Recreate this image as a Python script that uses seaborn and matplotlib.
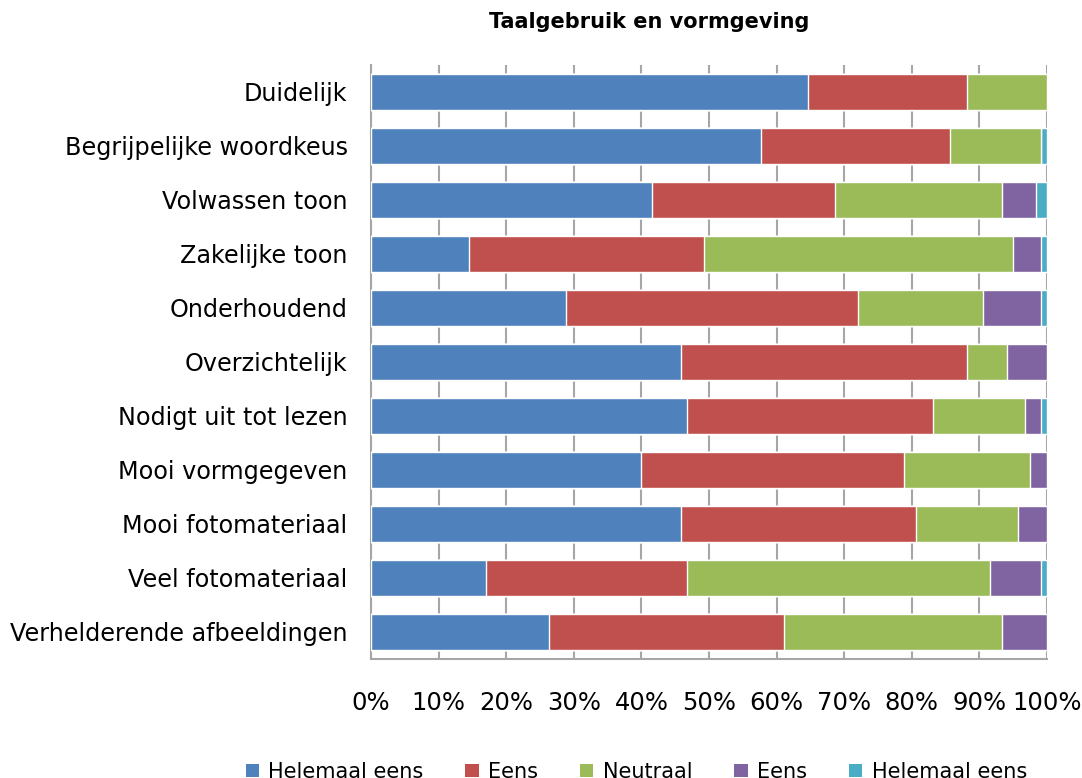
import matplotlib
matplotlib.use("Agg")
import matplotlib.pyplot as plt
import seaborn as sns
import pandas as pd
import numpy as np
from matplotlib.patches import Patch

categories = ["Duidelijk", "Begrijpelijke woordkeus", "Volwassen toon", "Zakelijke toon",
              "Onderhoudend", "Overzichtelijk", "Nodigt uit tot lezen", "Mooi vormgegeven",
              "Mooi fotomateriaal", "Veel fotomateriaal", "Verhelderende afbeeldingen"]
helemaal_eens = [64.6, 57.7, 41.6, 14.5, 28.9, 45.8, 46.7, 39.9, 45.8, 17.0, 26.3]
eens = [23.6, 27.9, 27.1, 34.7, 43.2, 42.4, 36.4, 39.0, 34.8, 29.7, 34.8]
neutraal = [11.8, 13.6, 24.6, 45.8, 18.5, 5.9, 13.6, 18.6, 15.2, 44.9, 32.2]
oneens = [0.0, 0.0, 5.1, 4.2, 8.6, 5.9, 2.5, 2.5, 4.2, 7.6, 6.7]
helemaal_oneens = [0.0, 0.8, 1.6, 0.8, 0.8, 0.0, 0.8, 0.0, 0.0, 0.8, 0.0]
series_labels = ["Helemaal eens", "Eens", "Neutraal", "Eens", "Helemaal eens"]
tick_values = [0, 10, 20, 30, 40, 50, 60, 70, 80, 90, 100]
tick_labels = ["0%", "10%", "20%", "30%", "40%", "50%", "60%", "70%", "80%", "90%", "100%"]
title = "Taalgebruik en vormgeving"

colors = ["#4F81BD", "#C0504D", "#9BBB59", "#8064A2", "#4BACC6"]

sns.set_style("white")
plt.rcParams['font.family'] = ['DejaVu Sans']
plt.rcParams['text.color'] = 'black'
plt.rcParams['xtick.color'] = 'black'
plt.rcParams['ytick.color'] = 'black'

series = [helemaal_eens, eens, neutraal, oneens, helemaal_oneens]
cum = np.cumsum(np.array(series), axis=0)

fig = plt.figure(figsize=(10.82, 7.78), dpi=100)
ax = fig.add_axes([0.343, 0.153, 0.6245, 0.7635])

for i in range(len(series) - 1, -1, -1):
    df = pd.DataFrame({"cat": categories, "val": cum[i]})
    sns.barplot(data=df, y="cat", x="val", color=colors[i], width=0.67,
                saturation=1, ax=ax, orient="h", zorder=3)

ax.set_xlim(0, 100)
ax.set_xticks(tick_values)
ax.set_xticklabels(tick_labels, fontsize=17.5)
ax.tick_params(axis="x", pad=23, length=0, labelcolor="black")
ax.tick_params(axis="y", length=0, pad=17, labelsize=17.2, labelcolor="black")
ax.set_xlabel("")
ax.set_ylabel("")
ax.grid(axis="x", color="#A6A6A6", linewidth=1.5, zorder=0)
ax.set_axisbelow(True)
for s in ["top", "right"]:
    ax.spines[s].set_visible(False)
for s in ["left", "bottom"]:
    ax.spines[s].set_color("#A6A6A6")
    ax.spines[s].set_linewidth(1.5)

fig.text(0.6, 0.972, title, ha="center", va="center", fontsize=15, fontweight="bold",
         color="black")

handles = [Patch(facecolor=c, edgecolor="none") for c in colors]
fig.legend(handles, series_labels, loc="center", bbox_to_anchor=(0.588, 0.008),
           ncol=5, frameon=False, fontsize=15, handlelength=0.65, handleheight=0.65,
           columnspacing=2.0, handletextpad=0.45, labelcolor="black")

fig.savefig("out.png", dpi=100)
